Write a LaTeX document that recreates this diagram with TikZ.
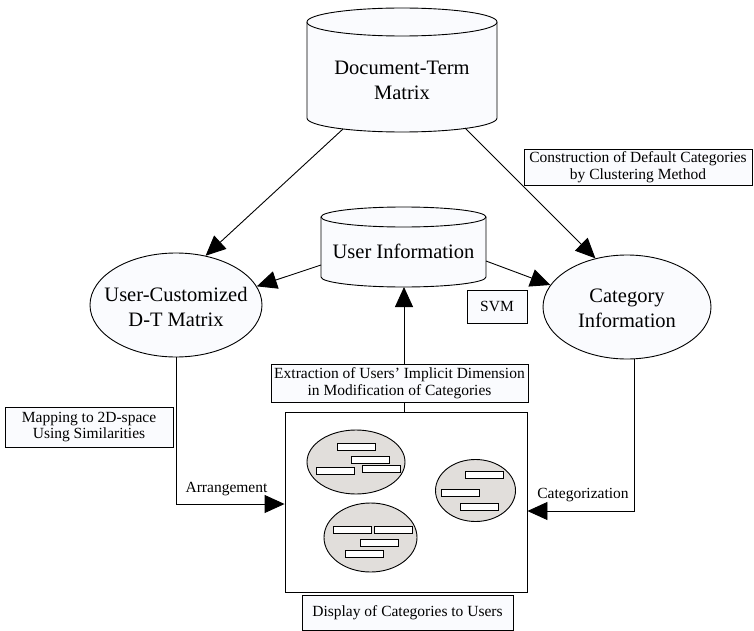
\documentclass[tikz,border=0pt]{standalone}
\usepackage{fontspec}
\setmainfont{Liberation Serif}
\usetikzlibrary{arrows.meta,shapes.geometric}
\definecolor{lightfill}{RGB}{250,251,254}
\definecolor{clgray}{RGB}{225,222,219}
\begin{document}
\begin{tikzpicture}[x=1pt,y=-1pt, line width=0.9pt,
  big/.style={font=\fontsize{20.5}{25}\selectfont, align=center, inner sep=0pt},
  small/.style={font=\fontsize{15.5}{16.5}\selectfont, align=center, inner sep=0pt},
  lbox/.style={small, draw, fill=lightfill},
  ell/.style={ellipse, draw, fill=lightfill, inner sep=0pt},
  arr/.style={-{Triangle[length=20pt,width=18pt]}},
  item/.style={draw, fill=white, minimum width=38pt, minimum height=7pt, inner sep=0pt},
  cl/.style={ellipse, draw, fill=clgray, inner sep=0pt}]
\useasboundingbox (0,0) rectangle (754,631);

% Document-Term Matrix cylinder
\fill[lightfill] (307,22) rectangle (497,118);
\fill[lightfill] (402,118) ellipse [x radius=95, y radius=14];
\draw (307,22) -- (307,118) arc[start angle=180, end angle=0, x radius=95, y radius=14] -- (497,22);
\draw[fill=lightfill] (402,22) ellipse [x radius=95, y radius=14];
\node[big] (dtm) at (402,80) {Document-Term\\Matrix};
\coordinate (dtmL) at (343,129);
\coordinate (dtmR) at (465,128);

% User Information cylinder
\fill[lightfill] (321,217) rectangle (486,277);
\fill[lightfill] (403.5,277) ellipse [x radius=82.5, y radius=10];
\draw (321,217) -- (321,277) arc[start angle=180, end angle=0, x radius=82.5, y radius=10] -- (486,217);
\draw[fill=lightfill] (403.5,217) ellipse [x radius=82.5, y radius=10];
\node[big] (ui) at (403.5,251) {User Information};
\coordinate (uiL) at (321,265);
\coordinate (uiR) at (486,261);
\coordinate (uiB) at (404,287);

% ellipses
\node[ell, minimum width=172pt, minimum height=104pt] (ucdt) at (176,305) {};
\node[big] (ucdtT) at (176,307) {User-Customized\\D-T Matrix};
\node[ell, minimum width=168pt, minimum height=104pt] (cat) at (627,307) {};
\node[big] (catT) at (627,308) {Category\\Information};

% label boxes
\node[lbox, minimum width=228pt, minimum height=36pt] (cons) at (638,167) {Construction of Default Categories\\by Clustering Method};
\node[lbox, minimum width=60pt, minimum height=33pt] (svm) at (497,306.5) {SVM};
\node[lbox, minimum width=168pt, minimum height=40pt] (map) at (89,427) {Mapping to 2D-space\\Using Similarities};
\node[lbox, minimum width=257pt, minimum height=38pt] (ext) at (399.5,383) {Extraction of Users’ Implicit Dimension\\in Modification of Categories};
\node[draw, fill=white, minimum width=242pt, minimum height=180pt, inner sep=0pt] (disp) at (406,502) {};
\node[lbox, minimum width=211pt, minimum height=35pt] (dlab) at (407.5,612.5) {Display of Categories to Users};

% clusters
\node[cl, minimum width=98pt, minimum height=64pt] (c1) at (356,462) {};
\node[cl, minimum width=80pt, minimum height=62pt] (c2) at (475.5,490.5) {};
\node[cl, minimum width=93pt, minimum height=69pt] (c3) at (370.5,537.5) {};
\node[item] (i1) at (356.5,446.5) {};
\node[item] (i2) at (370,460) {};
\node[item] (i3) at (335,470.5) {};
\node[item] (i4) at (381,468.5) {};
\node[item] (i5) at (484,474.5) {};
\node[item] (i6) at (460,492.5) {};
\node[item] (i7) at (479,506.5) {};
\node[item] (i8) at (352,530) {};
\node[item] (i9) at (393,530) {};
\node[item] (i10) at (379,542.5) {};
\node[item] (i11) at (364.5,554) {};

% connectors
\draw[arr] (dtmL) -- (ucdt.59);
\draw[arr] (dtmR) -- (cat.123);
\draw[arr] (uiL) -- (ucdt.13);
\draw[arr] (uiR) -- (cat.164);
\draw[arr] (ext.north -| uiB) -- (uiB);
\draw (ext.south -| uiB) -- (disp.north -| uiB);
\coordinate (arrL) at (176,504);
\draw[arr] (ucdt.south) -- (arrL) -- (arrL -| disp.west);
\node[small] (arrlab) at (226.5,489) {Arrangement};
\coordinate (catL) at (634,511);
\draw[arr] (cat.south -| catL) -- (catL) -- (catL -| disp.east);
\node[small] (catlab) at (583,495) {Categorization};
\end{tikzpicture}
\end{document}
